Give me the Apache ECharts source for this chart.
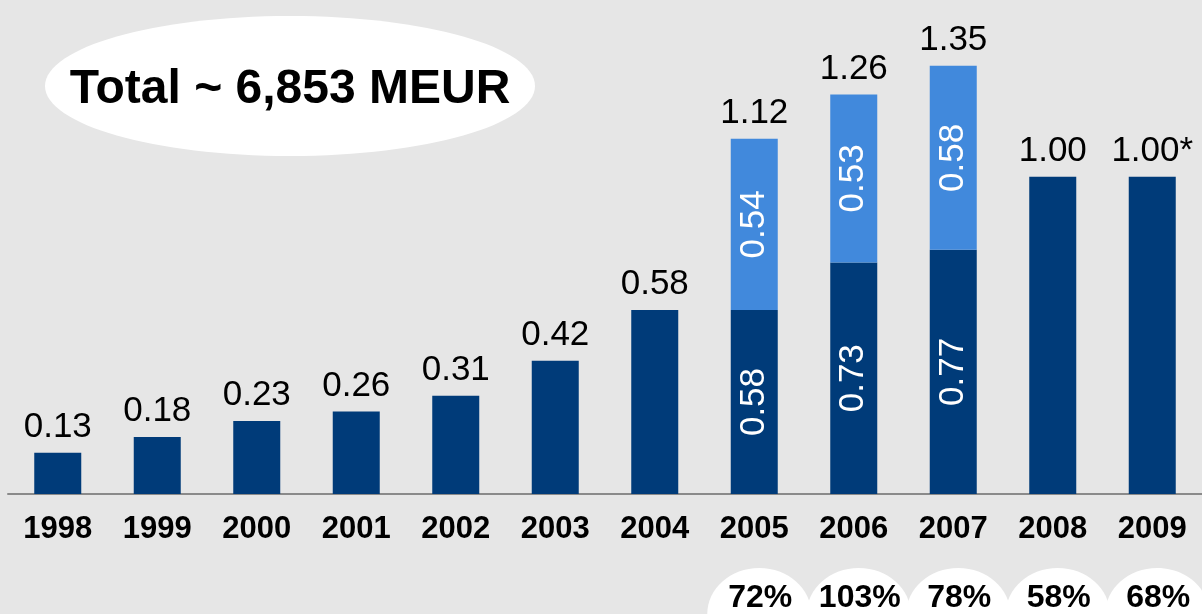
<!DOCTYPE html>
<html>
<head>
<meta charset="utf-8">
<script src="https://cdn.jsdelivr.net/npm/echarts@6/dist/echarts.min.js"></script>
<style>
html, body { margin: 0; padding: 0; background: #e6e6e6; }
#chart { width: 1202px; height: 614px; }
</style>
</head>
<body>
<div id="chart"></div>
<script>
// values in MEUR thousands per year
var years = ['1998', '1999', '2000', '2001', '2002', '2003', '2004', '2005', '2006', '2007', '2008', '2009'];
var baseValues = [0.13, 0.18, 0.23, 0.26, 0.31, 0.42, 0.58, 0.58, 0.73, 0.77, 1.00, 1.00];
var extraValues = [null, null, null, null, null, null, null, 0.54, 0.53, 0.58, null, null];
var totalNotes = ['', '', '', '', '', '', '', '', '', '', '', '*'];
var shareYears = ['2005', '2006', '2007', '2008', '2009'];
var shareValues = [72, 103, 78, 58, 68];
var totalText = 'Total ~ 6,853 MEUR';

var DARK = '#003b79';
var LIGHT = '#4189dc';
var FONT = '"Liberation Sans", Arial, sans-serif';

var chartDom = document.getElementById('chart');
var myChart = echarts.init(chartDom);

function hasExtra(i) {
    return extraValues[i] !== null;
}

var option = {
    backgroundColor: '#e6e6e6',
    animation: false,
    grid: { left: 8, right: -4, top: 50, bottom: 120, containLabel: false },
    xAxis: {
        type: 'category',
        data: years,
        axisLine: { show: true, lineStyle: { color: '#8a8a8a', width: 2 } },
        axisTick: { show: false },
        axisLabel: {
            margin: 20,
            color: '#000',
            fontFamily: FONT,
            fontWeight: 'bold',
            fontSize: 31
        }
    },
    yAxis: {
        type: 'value',
        min: 0,
        max: 1.4,
        show: false,
        splitLine: { show: false }
    },
    series: [
        {
            name: 'base',
            type: 'bar',
            stack: 'total',
            barWidth: 47,
            data: baseValues,
            itemStyle: { color: DARK },
            label: {
                show: true,
                position: 'inside',
                rotate: 90,
                color: '#fff',
                fontFamily: FONT,
                fontSize: 35,
                formatter: function (p) {
                    return hasExtra(p.dataIndex) ? p.value.toFixed(2) : '';
                }
            }
        },
        {
            name: 'extra',
            type: 'bar',
            stack: 'total',
            barWidth: 47,
            data: extraValues,
            itemStyle: { color: LIGHT },
            label: {
                show: true,
                position: 'inside',
                rotate: 90,
                color: '#fff',
                fontFamily: FONT,
                fontSize: 35,
                formatter: function (p) {
                    return p.value == null ? '' : p.value.toFixed(2);
                }
            }
        },
        {
            name: 'sum',
            type: 'bar',
            stack: 'total',
            barWidth: 47,
            data: years.map(function () { return 0; }),
            itemStyle: { color: 'rgba(0,0,0,0)' },
            label: {
                show: true,
                position: 'top',
                distance: 8,
                color: '#000',
                fontFamily: FONT,
                fontSize: 35,
                formatter: function (p) {
                    var i = p.dataIndex;
                    var t = baseValues[i] + (extraValues[i] || 0);
                    return t.toFixed(2) + totalNotes[i];
                }
            }
        }
    ]
};

myChart.setOption(option);

// annotations: total bubble and share bubbles under the axis
var shapes = [
    {
        type: 'ellipse',
        shape: { cx: 290, cy: 86, rx: 245, ry: 70 },
        style: { fill: '#fff' }
    },
    {
        type: 'text',
        x: 290,
        y: 90,
        style: {
            text: totalText,
            fill: '#000',
            font: 'bold 48px ' + FONT,
            align: 'center',
            verticalAlign: 'middle'
        }
    }
];

shareYears.forEach(function (y) {
    var px = myChart.convertToPixel({ xAxisIndex: 0 }, y);
    shapes.push({
        type: 'ellipse',
        shape: { cx: px + 5, cy: 614, rx: 52, ry: 46 },
        style: { fill: '#fff' }
    });
});
shareYears.forEach(function (y, i) {
    var px = myChart.convertToPixel({ xAxisIndex: 0 }, y);
    shapes.push({
        type: 'text',
        x: px + 6,
        y: 598,
        style: {
            text: shareValues[i] + '%',
            fill: '#000',
            font: 'bold 32px ' + FONT,
            align: 'center',
            verticalAlign: 'middle'
        }
    });
});

myChart.setOption({ graphic: shapes });

window.addEventListener('resize', function () {
    myChart.resize();
});
</script>
</body>
</html>
